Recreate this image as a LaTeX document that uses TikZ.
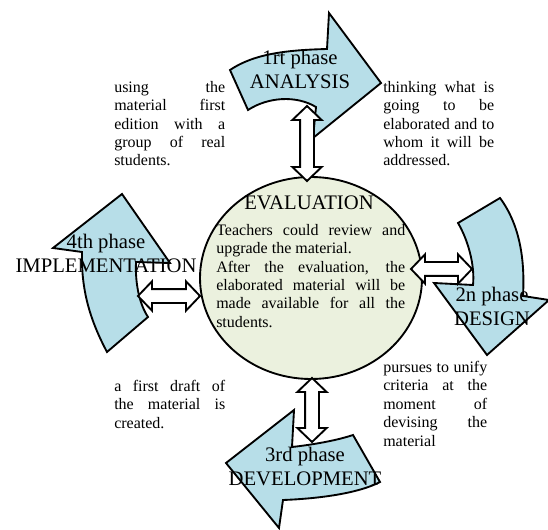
\documentclass[tikz,border=0pt]{standalone}
\usepackage{fontspec}
\setmainfont{Liberation Serif}
\usetikzlibrary{calc,shapes.geometric}

\definecolor{phaseblue}{HTML}{B7DEE8}
\definecolor{evalgreen}{HTML}{EBF1DE}

% sizes of the hollow two-way arrows
\newcommand\headlen{10.5pt}
\newcommand\headhalf{11pt}
\newcommand\shafthalf{5.2pt}
% hollow block arrow with a head at both ends
\newcommand\twoway[2]{%
  \draw[twoway] (#1)
    -- ($(#1)!\headlen!(#2)!\headhalf!90:(#2)$)
    -- ($(#1)!\headlen!(#2)!\shafthalf!90:(#2)$)
    -- ($(#2)!\headlen!(#1)!\shafthalf!-90:(#1)$)
    -- ($(#2)!\headlen!(#1)!\headhalf!-90:(#1)$)
    -- (#2)
    -- ($(#2)!\headlen!(#1)!\headhalf!90:(#1)$)
    -- ($(#2)!\headlen!(#1)!\shafthalf!90:(#1)$)
    -- ($(#1)!\headlen!(#2)!\shafthalf!-90:(#2)$)
    -- ($(#1)!\headlen!(#2)!\headhalf!-90:(#2)$)
    -- cycle;}

% justified notes: no hyphens, spaces only stretch
\newcommand\notesfont{\fontsize{12}{13.8}\selectfont
  \spaceskip=.25em plus 1em\relax
  \hyphenpenalty=10000\relax \tolerance=10000\relax \parindent=0pt\relax}

\begin{document}
\begin{tikzpicture}[
  x=0.75pt, y=-0.75pt,
  phase/.style={draw, line width=1.4pt, fill=phaseblue, line join=miter},
  twoway/.style={draw, line width=1.4pt, fill=white, line join=miter},
  core/.style={ellipse, draw, line width=1.4pt, fill=evalgreen, inner sep=0pt,
    minimum width=166.5pt, minimum height=151.5pt},
  phaselabel/.style={align=center, inner sep=0pt,
    font={\fontsize{15.5}{18}\selectfont}},
  notes/.style={anchor=north west, inner sep=0pt, align=justify, text width=83.25pt,
    font={\notesfont}},
]
\useasboundingbox (0,0) rectangle (548,530);

% the four phases round the centre
\draw[phase] (248,110) .. controls (268,97) and (296,95) .. (316,107)
  -- (313,138) -- (381,83) -- (329,13) -- (327,49)
  .. controls (290,50) and (255,53) .. (230,70) -- cycle;
\draw[phase] (458,223) .. controls (468,240) and (475,265) .. (473,285)
  -- (434,283) -- (487,355) -- (549,300) -- (523,296)
  .. controls (525,260) and (520,225) .. (500,198) -- cycle;
\draw[phase] (353,435) .. controls (335,441) and (310,445) .. (292,447)
  -- (294,410) -- (226,463) -- (279,528) -- (283,500)
  .. controls (310,499) and (355,495) .. (380,482) -- cycle;
\draw[phase] (148,317) .. controls (140,305) and (135,285) .. (136,262)
  -- (170,263) -- (122,194) -- (53,248) -- (82,252)
  .. controls (81,290) and (90,320) .. (107,352) -- cycle;

\node[core] (eval) at (311,278) {};

% ends of the links
\coordinate (an-end) at (307,106);
\coordinate (ev-top) at (307,181);
\coordinate (im-end) at (138,296);
\coordinate (ev-left) at (200,296);
\coordinate (ev-right) at (411,269);
\coordinate (de-end) at (472,269);
\coordinate (ev-bottom) at (312,378);
\coordinate (dv-end) at (312,442);

\twoway{an-end}{ev-top}
\twoway{im-end}{ev-left}
\twoway{ev-right}{de-end}
\twoway{ev-bottom}{dv-end}

% phase names
\node[phaselabel] (analysis) at (300,69) {1rt phase\\ANALYSIS};
\node[phaselabel] (design) at (492,306) {2n phase\\DESIGN};
\node[phaselabel] (develop) at (305,466.5) {3rd phase\\DEVELOPMENT};
\node[phaselabel] (implement) at (106,253) {4th phase\\IMPLEMENTATION};
\node[phaselabel, anchor=base] (evaltitle) at (309,210) {EVALUATION};

% notes
\node[notes] (usenote) at (114,81) {using the material first edition with a group of real students.};
\node[notes] (thinknote) at (383,81) {thinking what is going to be elaborated and to whom it will be addressed.};
\node[notes] (draftnote) at (114,380) {a first draft of the material is created.};
\node[notes, text width=78pt] (unifynote) at (383,361) {pursues to unify criteria at the moment of devising the material};
\node[notes, text width=141.75pt] (evalnote) at (216,224) {Teachers could review and upgrade the material.\par
  After the evaluation, the elaborated material will be made available for all the students.};
\end{tikzpicture}
\end{document}
